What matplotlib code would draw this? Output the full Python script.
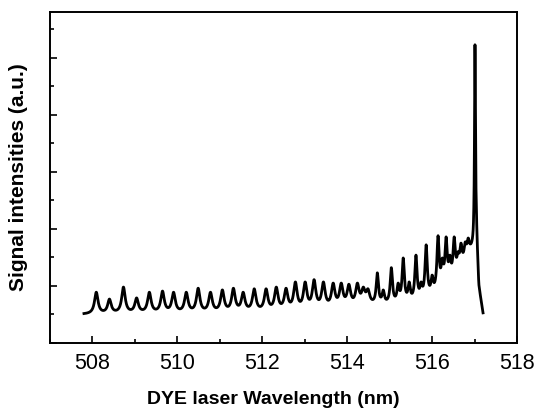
import numpy as np
import matplotlib
matplotlib.use("Agg")
import matplotlib.pyplot as plt
from matplotlib.ticker import MultipleLocator, NullFormatter

# ---- data ----
# peak positions (nm) and apex values (a.u.)
peak_pos = [508.09, 508.40, 508.73, 509.04, 509.34, 509.65, 509.91, 510.21,
            510.49, 510.78, 511.06, 511.32, 511.55, 511.81, 512.09, 512.33,
            512.56, 512.78, 513.01, 513.22, 513.44, 513.67, 513.86, 514.04,
            514.24, 514.38, 514.49, 514.71, 514.85, 515.04, 515.20, 515.32,
            515.46, 515.62, 515.74, 515.86, 516.00, 516.14, 516.24, 516.33,
            516.42, 516.52, 516.61, 516.68, 516.78, 516.85, 517.01]
peak_top = [0.89, 0.77, 0.98, 0.79, 0.89, 0.91, 0.89, 0.89,
            0.96, 0.89, 0.93, 0.96, 0.89, 0.95, 0.95, 0.98,
            0.96, 1.07, 1.07, 1.11, 1.07, 1.05, 1.05, 1.03,
            1.05, 0.98, 0.95, 1.23, 0.93, 1.32, 1.05, 1.49,
            1.07, 1.54, 1.07, 1.72, 1.19, 1.88, 1.49, 1.86,
            1.54, 1.86, 1.60, 1.75, 1.77, 1.84, 5.23]
# valley (baseline) level along the scan
base_pos = [507.80, 509.00, 510.50, 512.00, 513.00, 514.00, 514.60, 515.30,
            515.70, 516.00, 516.20, 516.45, 516.60, 516.75, 516.90, 516.97,
            517.04, 517.10, 517.20]
base_val = [0.50, 0.51, 0.51, 0.53, 0.55, 0.60, 0.64, 0.66,
            0.70, 0.78, 0.88, 1.02, 1.17, 1.37, 1.58, 1.66,
            1.95, 0.95, 0.50]

xticks = [508, 510, 512, 514, 516, 518]

# ---- build trace (Lorentzian lines on the valley level) ----
pos = np.array(peak_pos)
top = np.array(peak_top)
gam = np.where(top > 3, 0.013, np.where(pos < 514.5, 0.05, 0.032))


def shapes(xx):
    return 1.0 / (1.0 + ((np.asarray(xx)[:, None] - pos[None, :]) / gam[None, :]) ** 2)


M = shapes(pos)
amps = np.linalg.solve(M, top - np.interp(pos, base_pos, base_val))

x = np.linspace(base_pos[0], base_pos[-1], 8000)
y = np.interp(x, base_pos, base_val) + shapes(x) @ amps

plt.rcParams['font.family'] = ['Liberation Sans', 'DejaVu Sans']
fig = plt.figure(figsize=(5.4, 4.17), dpi=100)
ax = fig.add_axes([50 / 540, (417 - 343) / 417, (517 - 50) / 540, (343 - 12) / 417])
ax.plot(x, y, color='black', lw=2.0, solid_joinstyle='round')

ax.set_xlim(507.0, 518.0)
ax.set_ylim(0, 5.8)
ax.set_xticks(xticks)
ax.set_xticklabels([str(v) for v in xticks])
ax.xaxis.set_minor_locator(MultipleLocator(1))
ax.yaxis.set_major_locator(MultipleLocator(1))
ax.yaxis.set_minor_locator(MultipleLocator(0.5))
ax.yaxis.set_major_formatter(NullFormatter())
ax.tick_params(axis='both', which='both', direction='in', top=False, right=False,
               width=1.2, labelsize=15.5, pad=7)
ax.tick_params(which='major', length=5)
ax.tick_params(which='minor', length=3)
for s in ax.spines.values():
    s.set_linewidth(1.4)

ax.set_xlabel('DYE laser Wavelength (nm)', fontsize=14, fontweight='bold')
ax.xaxis.set_label_coords(0.478, -0.145)
ax.set_ylabel('Signal intensities (a.u.)', fontsize=15, fontweight='bold')
ax.yaxis.set_label_coords(-0.048, 0.5)

fig.savefig('out.png', dpi=100)
